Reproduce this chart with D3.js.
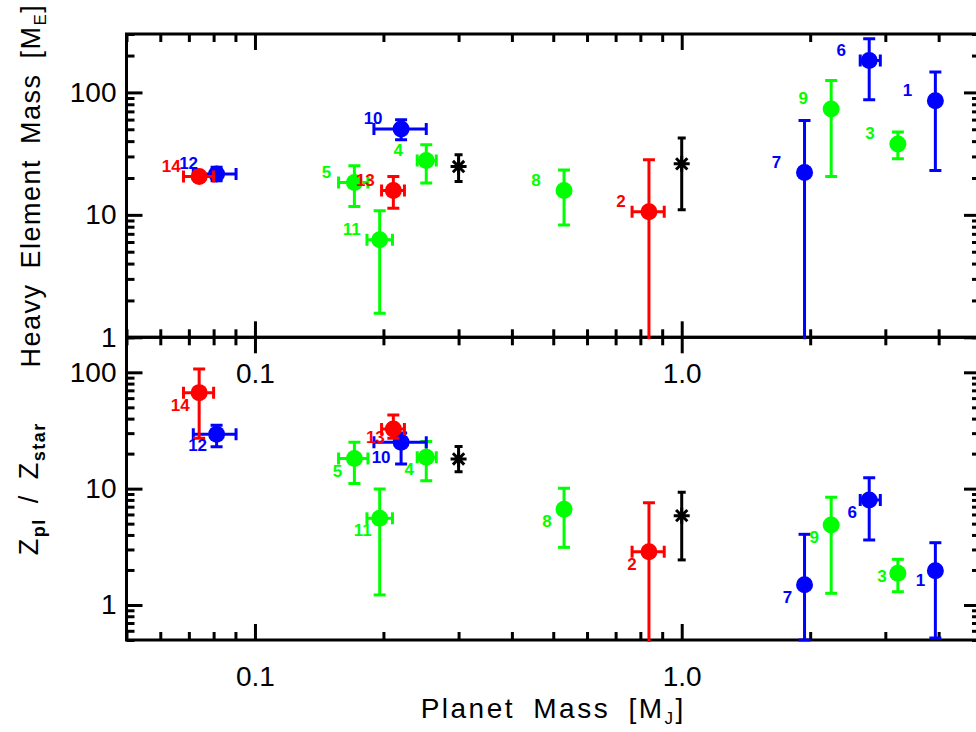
<!DOCTYPE html>
<html>
<head>
<meta charset="utf-8">
<script src="https://cdn.jsdelivr.net/npm/d3@7"></script>
<style>
  body { margin: 0; background: #fff; }
  svg { display: block; font-family: "Liberation Sans", Arial, sans-serif; }
</style>
</head>
<body>
<svg id="chart" width="976" height="732"></svg>
<script>
// planets 1..14
const planetIds = ["1", "2", "3", "4", "5", "6", "7", "8", "9", "10", "11", "12", "13", "14"];
const planetGroup = ["A", "B", "C", "C", "C", "A", "A", "C", "C", "A", "C", "A", "B", "B"];

const planetMass   = [3.93, 0.838, 3.21, 0.252, 0.171, 2.75, 1.94, 0.530, 2.24, 0.220, 0.196, 0.0813, 0.211, 0.074];
const planetMassLo = [null, 0.765, null, 0.240, 0.157, 2.62, null, null, null, 0.190, 0.183, 0.0717, 0.198, 0.068];
const planetMassHi = [null, 0.910, null, 0.266, 0.184, 2.92, null, null, null, 0.252, 0.210, 0.0903, 0.224, 0.080];

const heavyMass   = [85.5, 10.6, 37.9, 27.8, 18.4, 182, 22.2, 15.8, 73.2, 50.2, 6.25, 21.6, 15.8, 20.6];
const heavyMassLo = [23.0, 0.1, 28.7, 18.2, 11.7, 87.2, 0.1, 8.28, 20.6, 41.0, 1.57, 19.0, 11.3, 19.8];
const heavyMassHi = [147, 28.2, 47.5, 37.4, 25.2, 275, 59.0, 23.3, 125, 59.8, 10.8, 24.5, 20.6, 21.4];

const zRatio   = [1.97, 2.87, 1.87, 18.6, 18.2, 8.0, 1.49, 6.65, 4.87, 25.1, 5.56, 29.4, 32.6, 66.9];
const zRatioLo = [0.52, 0.1, 1.30, 11.7, 11.1, 3.62, 0.5, 3.13, 1.26, 16.3, 1.22, 22.9, 27.1, 27.1];
const zRatioHi = [3.43, 7.57, 2.47, 25.4, 25.1, 12.4, 4.05, 10.1, 8.43, 30.1, 9.94, 35.0, 43.0, 107];

// black asterisks (averages)
const avgMass    = [0.3, 1.0];
const avgHeavy   = [24.8, 26.1];
const avgHeavyLo = [18.7, 11.0];
const avgHeavyHi = [31.0, 42.4];
const avgZ       = [18.0, 5.86];
const avgZLo     = [14.0, 2.44];
const avgZHi     = [23.0, 9.31];

const xTickValues = [0.1, 1];
const xTickLabels = ["0.1", "1.0"];
const yTickValues = [1, 10, 100];
const yTickLabels = ["1", "10", "100"];

const color = d3.scaleOrdinal()
  .domain(["A", "B", "C"])
  .range(["#0000ff", "#ff0000", "#00ff00"]);

const svg = d3.select("#chart");
const left = 126.5, right = 980;

const x = d3.scaleLog().domain([0.05, 5]).range([left, right]);
const yTop = d3.scaleLog().domain([1, 300]).range([337.3, 34]);
const yBot = d3.scaleLog().domain([0.5, 200]).range([640, 337.3]);

const majorLen = 16, minorLen = 8;
const isMajor = v => [0.1, 1, 10, 100].some(m => Math.abs(v / m - 1) < 1e-6);

function drawAxes(y, name) {
  const [y0, y1] = y.range(); // bottom, top
  const g = svg.append("g").attr("class", "axes-" + name);
  const minorX = x.ticks().filter(v => !isMajor(v));
  const minorY = y.ticks().filter(v => !isMajor(v));
  const fmtX = d => xTickLabels[xTickValues.indexOf(d)];
  const fmtY = d => yTickLabels[yTickValues.indexOf(d)];

  // bottom
  g.append("g").attr("transform", `translate(0,${y0})`)
    .call(d3.axisBottom(x).tickValues(xTickValues).tickFormat(fmtX)
      .tickSizeInner(-majorLen).tickSizeOuter(0).tickPadding(26));
  g.append("g").attr("transform", `translate(0,${y0})`)
    .call(d3.axisBottom(x).tickValues(minorX).tickFormat("")
      .tickSizeInner(-minorLen).tickSizeOuter(0));
  // top
  g.append("g").attr("transform", `translate(0,${y1})`)
    .call(d3.axisTop(x).tickValues(xTickValues).tickFormat("")
      .tickSizeInner(-majorLen).tickSizeOuter(0));
  g.append("g").attr("transform", `translate(0,${y1})`)
    .call(d3.axisTop(x).tickValues(minorX).tickFormat("")
      .tickSizeInner(-minorLen).tickSizeOuter(0));
  // left
  g.append("g").attr("transform", `translate(${left},0)`)
    .call(d3.axisLeft(y).tickValues(yTickValues).tickFormat(fmtY)
      .tickSizeInner(-majorLen).tickSizeOuter(0).tickPadding(10));
  g.append("g").attr("transform", `translate(${left},0)`)
    .call(d3.axisLeft(y).tickValues(minorY).tickFormat("")
      .tickSizeInner(-minorLen).tickSizeOuter(0));
  // right
  g.append("g").attr("transform", `translate(${right},0)`)
    .call(d3.axisRight(y).tickValues(yTickValues).tickFormat("")
      .tickSizeInner(-majorLen).tickSizeOuter(0));
  g.append("g").attr("transform", `translate(${right},0)`)
    .call(d3.axisRight(y).tickValues(minorY).tickFormat("")
      .tickSizeInner(-minorLen).tickSizeOuter(0));

  g.selectAll(".domain").remove();
  g.selectAll(".tick line").attr("stroke", "#000").attr("stroke-width", 3);
  g.selectAll(".tick text")
    .attr("fill", "#000")
    .style("font-size", "28px")
    .style("font-family", "'Liberation Sans', Arial, sans-serif");

  g.append("rect")
    .attr("x", left).attr("y", y1)
    .attr("width", right - left).attr("height", y0 - y1)
    .attr("fill", "none").attr("stroke", "#000").attr("stroke-width", 3);
}

// asterisk marker: + and x combined
const asterisk = {
  draw(ctx, size) {
    const r = Math.sqrt(size) / 2;
    const d = r * Math.SQRT1_2;
    ctx.moveTo(0, -r); ctx.lineTo(0, r);
    ctx.moveTo(-r, 0); ctx.lineTo(r, 0);
    ctx.moveTo(-d, -d); ctx.lineTo(d, d);
    ctx.moveTo(-d, d); ctx.lineTo(d, -d);
  }
};

function drawPanel(y, vals, lo, hi, aVals, aLo, aHi, name, labelShift) {
  const [y0, y1] = y.range();
  const clipId = "clip-" + name;
  svg.append("clipPath").attr("id", clipId)
    .append("rect").attr("x", left).attr("y", y1 - 2)
    .attr("width", right - left).attr("height", y0 - y1 + 4);

  const g = svg.append("g").attr("clip-path", `url(#${clipId})`);
  const cap = 6, sw = 3;

  // averages (black)
  aVals.forEach((v, i) => {
    const px = x(avgMass[i]);
    const pg = g.append("g");
    pg.append("line").attr("x1", px).attr("x2", px)
      .attr("y1", y(aLo[i])).attr("y2", y(aHi[i]))
      .attr("stroke", "#000").attr("stroke-width", sw);
    [aLo[i], aHi[i]].forEach(e => {
      pg.append("line").attr("x1", px - 4).attr("x2", px + 4)
        .attr("y1", y(e)).attr("y2", y(e))
        .attr("stroke", "#000").attr("stroke-width", sw);
    });
    pg.append("path")
      .attr("transform", `translate(${px},${y(v)})`)
      .attr("d", d3.symbol(asterisk, 256)())
      .attr("stroke", "#000").attr("stroke-width", 3).attr("fill", "none");
  });

  planetIds.forEach((id, i) => {
    const c = color(planetGroup[i]);
    const px = x(planetMass[i]), py = y(vals[i]);
    const pg = g.append("g").attr("class", "planet");

    // vertical error bar
    pg.append("line").attr("x1", px).attr("x2", px)
      .attr("y1", y(lo[i])).attr("y2", y(hi[i]))
      .attr("stroke", c).attr("stroke-width", sw);
    [lo[i], hi[i]].forEach(e => {
      pg.append("line").attr("x1", px - cap).attr("x2", px + cap)
        .attr("y1", y(e)).attr("y2", y(e))
        .attr("stroke", c).attr("stroke-width", sw);
    });

    // horizontal error bar
    if (planetMassLo[i] != null) {
      const xl = x(planetMassLo[i]), xh = x(planetMassHi[i]);
      pg.append("line").attr("x1", xl).attr("x2", xh)
        .attr("y1", py).attr("y2", py)
        .attr("stroke", c).attr("stroke-width", sw);
      [xl, xh].forEach(e => {
        pg.append("line").attr("x1", e).attr("x2", e)
          .attr("y1", py - cap).attr("y2", py + cap)
          .attr("stroke", c).attr("stroke-width", sw);
      });
    }

    pg.append("circle").attr("cx", px).attr("cy", py).attr("r", 8.5).attr("fill", c);

    const [dx, dy] = labelShift(id);
    svg.append("text")
      .attr("x", px + dx).attr("y", py + dy)
      .attr("dy", "0.36em")
      .attr("text-anchor", "middle")
      .attr("fill", c)
      .style("font-size", "17px")
      .style("font-weight", "bold")
      .text(id);
  });
}

drawAxes(yTop, "top");
drawAxes(yBot, "bottom");

const bottomShiftOverride = {
  "3": [-16, 3], "1": [-15, 9], "14": [-19, 12], "12": [-19, 11],
  "13": [-18, 8], "10": [-20, 15]
};

drawPanel(yTop, heavyMass, heavyMassLo, heavyMassHi, avgHeavy, avgHeavyLo, avgHeavyHi, "top",
  () => [-28, -11]);
drawPanel(yBot, zRatio, zRatioLo, zRatioHi, avgZ, avgZLo, avgZHi, "bottom",
  id => bottomShiftOverride[id] || [-17, 12]);

// axis titles
const titleStyle = sel => sel
  .attr("fill", "#000")
  .style("font-size", "27px")
  .style("letter-spacing", "1.5px")
  .style("word-spacing", "6px");

const xt = svg.append("text")
  .attr("x", (left + right) / 2).attr("y", 718)
  .attr("text-anchor", "middle")
  .call(titleStyle)
  .style("font-size", "28px")
  .style("letter-spacing", "2.5px")
  .style("word-spacing", "8px");
xt.append("tspan").text("Planet Mass [M");
xt.append("tspan").attr("dy", 6).style("font-size", "17px").text("J");
xt.append("tspan").attr("dy", -6).text("]");

const yt1 = svg.append("text")
  .attr("transform", `translate(40,${(yTop.range()[0] + yTop.range()[1]) / 2}) rotate(-90)`)
  .attr("text-anchor", "middle")
  .call(titleStyle);
yt1.append("tspan").text("Heavy Element Mass [M");
yt1.append("tspan").attr("dy", 6).style("font-size", "17px").text("E");
yt1.append("tspan").attr("dy", -6).text("]");

const yt2 = svg.append("text")
  .attr("transform", `translate(38,${(yBot.range()[0] + yBot.range()[1]) / 2}) rotate(-90)`)
  .attr("text-anchor", "middle")
  .call(titleStyle);
yt2.append("tspan").text("Z");
yt2.append("tspan").attr("dy", 7).style("font-size", "18px").style("font-weight", "bold").text("pl");
yt2.append("tspan").attr("dy", -7).text(" / Z");
yt2.append("tspan").attr("dy", 7).style("font-size", "18px").style("font-weight", "bold").text("star");
</script>
</body>
</html>
